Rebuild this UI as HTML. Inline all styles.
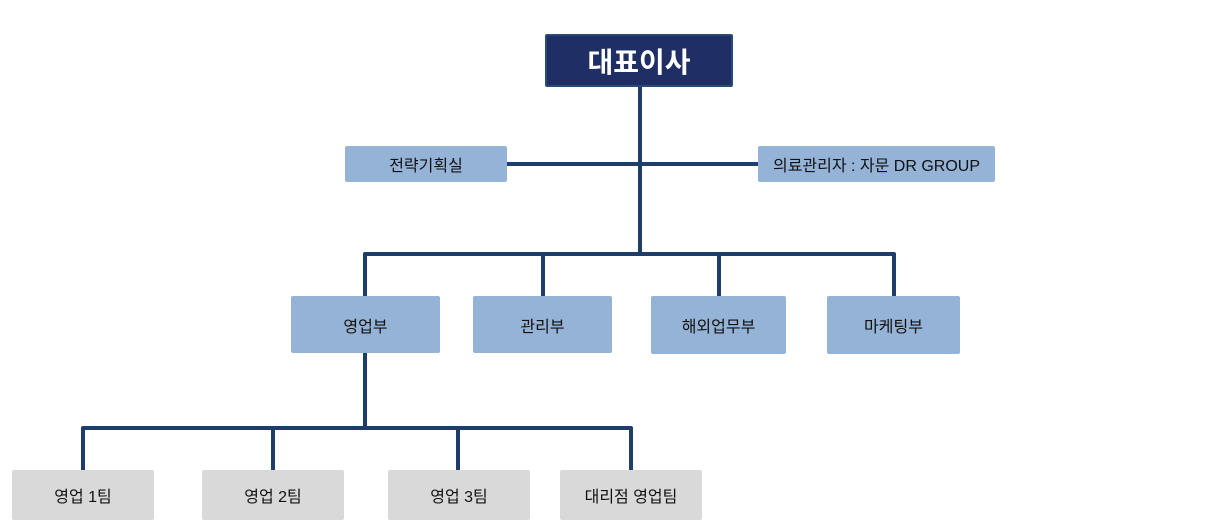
<!DOCTYPE html>
<html><head><meta charset="utf-8"><style>
body{margin:0;width:1225px;height:514px;background:#fff;position:relative;overflow:hidden;font-family:"Liberation Sans","Noto Sans CJK KR","NanumGothic",sans-serif;}
.b{position:absolute;display:flex;align-items:center;justify-content:center;font-size:16px;color:#111;border-radius:2px;}
.l{background:#95b3d7;}
.g{background:#d9d9d9;}
svg{position:absolute;left:0;top:0;}
</style></head><body>
<svg width="1225" height="514">
<g stroke="#1f3d6b" stroke-width="4" fill="none" stroke-linejoin="round">
<line x1="640" y1="87" x2="640" y2="255"/>
<line x1="507" y1="164" x2="758" y2="164"/>
<polyline points="365,296 365,254 894,254 894,296"/>
<line x1="543" y1="254" x2="543" y2="296"/>
<line x1="719" y1="254" x2="719" y2="296"/>
<line x1="365" y1="353" x2="365" y2="428"/>
<polyline points="83,470 83,428 631,428 631,470"/>
<line x1="273" y1="428" x2="273" y2="470"/>
<line x1="458" y1="428" x2="458" y2="470"/>
</g></svg>
<div class="b" style="left:545px;top:34px;width:184px;height:49px;background:#1f2f66;border:2px solid #2a4a7a;color:#fff;font-size:28px;font-weight:bold;">대표이사</div>
<div class="b l" style="left:345px;top:146px;width:162px;height:36px;">전략기획실</div>
<div class="b l" style="left:758px;top:146px;width:237px;height:36px;">의료관리자 : 자문 DR GROUP</div>
<div class="b l" style="left:291px;top:296px;width:149px;height:57px;">영업부</div>
<div class="b l" style="left:473px;top:296px;width:139px;height:57px;">관리부</div>
<div class="b l" style="left:651px;top:296px;width:135px;height:58px;">해외업무부</div>
<div class="b l" style="left:827px;top:296px;width:133px;height:58px;">마케팅부</div>
<div class="b g" style="left:12px;top:470px;width:142px;height:50px;">영업 1팀</div>
<div class="b g" style="left:202px;top:470px;width:142px;height:50px;">영업 2팀</div>
<div class="b g" style="left:388px;top:470px;width:142px;height:50px;">영업 3팀</div>
<div class="b g" style="left:560px;top:470px;width:142px;height:50px;">대리점 영업팀</div>
</body></html>
